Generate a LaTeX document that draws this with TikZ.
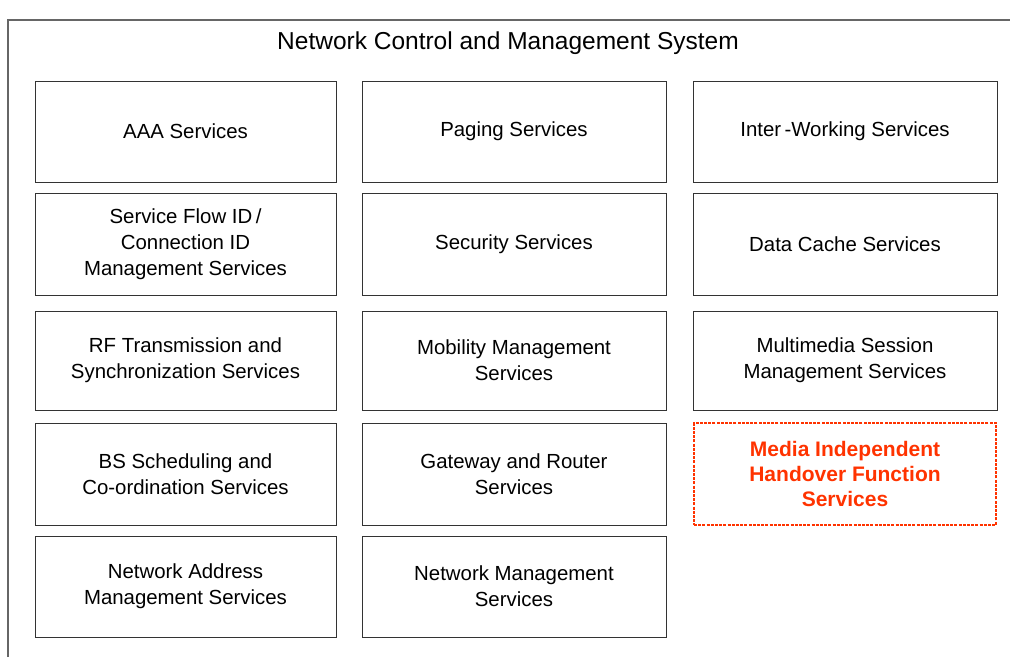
\documentclass[tikz,border=0pt]{standalone}
\usepackage{fontspec}
\setmainfont{Liberation Sans}
\definecolor{boxline}{HTML}{333333}
\definecolor{frameline}{HTML}{666666}
\definecolor{mihred}{HTML}{FF3300}
\begin{document}
\begin{tikzpicture}[x=1pt,y=-1pt,
  svc/.style={draw=boxline, line width=1pt, rectangle, align=center,
    inner sep=0pt, font=\fontsize{20.4}{26}\selectfont},
  mih/.style={draw=mihred, line width=1.5pt, dash pattern=on 3pt off 1.2pt,
    rectangle, align=center, inner sep=0pt, text=mihred,
    font=\fontsize{21}{25}\selectfont\bfseries}]
\useasboundingbox (0,0) rectangle (1010,657);
\draw[frameline, line width=1.5pt] (8,657) -- (8,20) -- (1010,20);
\node[font=\fontsize{24.5}{29}\selectfont] (title) at (508,43) {Network Control and Management System};
% column 1
\node[svc, minimum width=301pt, minimum height=101pt] (aaa) at (185.5,131.5) {AAA Services};
\node[svc, minimum width=301pt, minimum height=102pt] (sfid) at (185.5,244) {Service Flow ID\,/\\Connection ID\\Management Services};
\node[svc, minimum width=301pt, minimum height=99pt] (rf) at (185.5,360.5) {RF Transmission and\\Synchronization Services};
\node[svc, minimum width=301pt, minimum height=102pt] (bs) at (185.5,474) {BS Scheduling and\\Co-ordination Services};
\node[svc, minimum width=301pt, minimum height=101pt] (nam) at (185.5,586.5) {Network Address\\Management Services};
% column 2
\node[svc, minimum width=304pt, minimum height=101pt] (pag) at (514,131.5) {Paging Services};
\node[svc, minimum width=304pt, minimum height=102pt] (sec) at (514,244) {Security Services};
\node[svc, minimum width=304pt, minimum height=99pt] (mob) at (514,360.5) {Mobility Management\\Services};
\node[svc, minimum width=304pt, minimum height=102pt] (gw) at (514,474) {Gateway and Router\\Services};
\node[svc, minimum width=304pt, minimum height=101pt] (nm) at (514,586.5) {Network Management\\Services};
% column 3
\node[svc, minimum width=304pt, minimum height=101pt] (iw) at (845,131.5) {Inter\,-Working Services};
\node[svc, minimum width=304pt, minimum height=102pt] (dc) at (845,244) {Data Cache Services};
\node[svc, minimum width=304pt, minimum height=99pt] (mm) at (845,360.5) {Multimedia Session\\Management Services};
\node[mih, minimum width=302pt, minimum height=102pt] (mihf) at (845,474) {Media Independent\\Handover Function\\Services};
\end{tikzpicture}
\end{document}
